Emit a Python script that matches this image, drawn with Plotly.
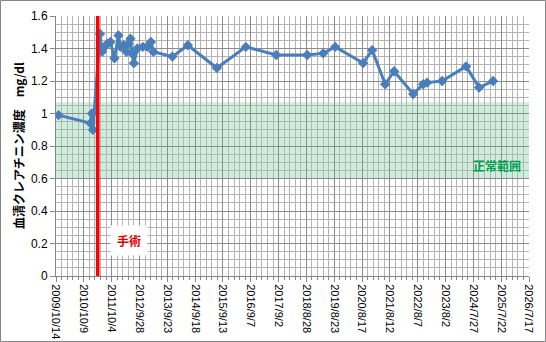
import pandas as pd
import plotly.graph_objects as go

# Serum creatinine measurements (mg/dl)
dates = [
    "2009-11-15", "2011-01-03", "2011-01-22", "2011-02-04",
    "2011-05-06", "2011-06-01", "2011-07-03", "2011-08-11", "2011-09-18",
    "2011-11-09", "2011-12-31", "2012-01-26", "2012-03-04", "2012-04-12",
    "2012-05-08", "2012-06-03", "2012-06-22", "2012-07-18", "2012-09-01",
    "2012-11-11", "2013-01-09", "2013-02-23", "2013-03-27", "2013-11-28",
    "2014-06-16", "2015-06-26", "2016-07-05", "2017-08-03", "2018-09-08",
    "2019-04-02", "2019-09-05", "2020-08-31", "2020-12-26", "2021-06-12",
    "2021-10-06", "2022-06-09", "2022-10-16", "2022-12-07", "2023-06-18",
    "2024-04-24", "2024-10-09", "2025-04-08",
]
creatinine = [
    0.99, 0.94, 1.00, 0.90,
    1.49, 1.38, 1.41, 1.43, 1.44,
    1.34, 1.48, 1.41, 1.42, 1.38,
    1.43, 1.46, 1.37, 1.31, 1.40,
    1.41, 1.41, 1.44, 1.38, 1.35,
    1.42, 1.28, 1.41, 1.36, 1.36,
    1.37, 1.41, 1.31, 1.39, 1.18,
    1.26, 1.12, 1.18, 1.19, 1.20,
    1.29, 1.16, 1.20,
]

surgery_date = "2011-04-07"
normal_low, normal_high = 0.60, 1.07

x_tick_labels = [
    "2009/10/14", "2010/10/9", "2011/10/4", "2012/9/28", "2013/9/23",
    "2014/9/18", "2015/9/13", "2016/9/7", "2017/9/2", "2018/8/28",
    "2019/8/23", "2020/8/17", "2021/8/12", "2022/8/7", "2023/8/2",
    "2024/7/27", "2025/7/22", "2026/7/17",
]
x_tick_vals = pd.to_datetime(x_tick_labels, format="%Y/%m/%d")
y_max = 1.6

W, H = 546, 342
ML, MR, MT, MB = 56, 17, 16, 66
pw, ph = W - ML - MR, H - MT - MB


def px_x(px):
    """Horizontal pixel position -> paper fraction of the plot area."""
    return (px - ML) / pw


def px_y(py):
    """Vertical pixel position (from top) -> paper fraction of the plot area."""
    return (H - MB - py) / ph


fig = go.Figure()

# normal range band
fig.add_shape(type="rect", xref="paper", yref="y", x0=0, x1=1,
              y0=normal_low, y1=normal_high, layer="below",
              fillcolor="rgba(0,176,80,0.20)", line_width=0)

fig.add_trace(go.Scatter(
    x=pd.to_datetime(dates), y=creatinine, mode="lines+markers",
    line=dict(color="#4A7EBB", width=3),
    marker=dict(symbol="diamond", size=8, color="#4A7EBB"),
    showlegend=False, hoverinfo="x+y",
))

# surgery marker line
fig.add_shape(type="line", xref="x", yref="y", x0=surgery_date, x1=surgery_date,
              y0=0, y1=y_max, line=dict(color="#FF0000", width=3.5))

fig.add_annotation(x=px_x(129), y=px_y(240), xref="paper", yref="paper",
                   xanchor="center", yanchor="middle",
                   text="<b>手術</b>", showarrow=False, bgcolor="white",
                   borderpad=6,
                   font=dict(family="Noto Sans CJK JP", size=12, color="#E00000"))
fig.add_annotation(x=px_x(497), y=px_y(165), xref="paper", yref="paper",
                   xanchor="center", yanchor="middle",
                   text="<b>正常範囲</b>", showarrow=False,
                   font=dict(family="Noto Sans CJK JP", size=12, color="#00A050"))
fig.add_annotation(x=px_x(18), y=0.5, xref="paper", yref="paper",
                   xanchor="center", yanchor="middle",
                   text="<b>血清クレアチニン濃度　mg/dl</b>", showarrow=False,
                   textangle=-90,
                   font=dict(family="Noto Sans CJK JP", size=12, color="black"))

# chart area border
fig.add_shape(type="rect", xref="paper", yref="paper",
              x0=px_x(0.5), x1=px_x(W - 0.5), y0=px_y(H - 0.5), y1=px_y(0.5),
              line=dict(color="#868686", width=1), layer="below")

fig.update_xaxes(
    type="date", range=[x_tick_vals[0], x_tick_vals[-1]], automargin=False,
    tickmode="array", tickvals=x_tick_vals, ticktext=x_tick_labels,
    tickangle=90, tickfont=dict(family="Liberation Sans", size=11, color="black"),
    showgrid=True, gridcolor="#8C8C8C", gridwidth=1,
    ticks="outside", ticklen=5, tickcolor="#868686",
    showline=True, linecolor="#868686", linewidth=1, mirror=False,
    zeroline=False,
    minor=dict(tick0="2009-10-14", dtick=72 * 86400000, showgrid=True,
               gridcolor="#B4B4B4", gridwidth=1, ticks="outside", ticklen=3,
               tickcolor="#868686"),
)
fig.update_yaxes(
    range=[0, y_max], dtick=0.2, tick0=0, automargin=False,
    tickfont=dict(family="Liberation Sans", size=12, color="black"),
    showgrid=True, gridcolor="#8C8C8C", gridwidth=1,
    ticks="outside", ticklen=5, tickcolor="#868686",
    showline=True, linecolor="#868686", linewidth=1,
    zeroline=False,
    minor=dict(dtick=0.05, showgrid=True, gridcolor="#B4B4B4", gridwidth=1),
)

fig.update_layout(
    width=W, height=H, autosize=False,
    margin=dict(l=ML, r=MR, t=MT, b=MB),
    paper_bgcolor="white", plot_bgcolor="white",
    font=dict(family="Liberation Sans"),
)

fig.write_html("out.html", config={"displayModeBar": False})
